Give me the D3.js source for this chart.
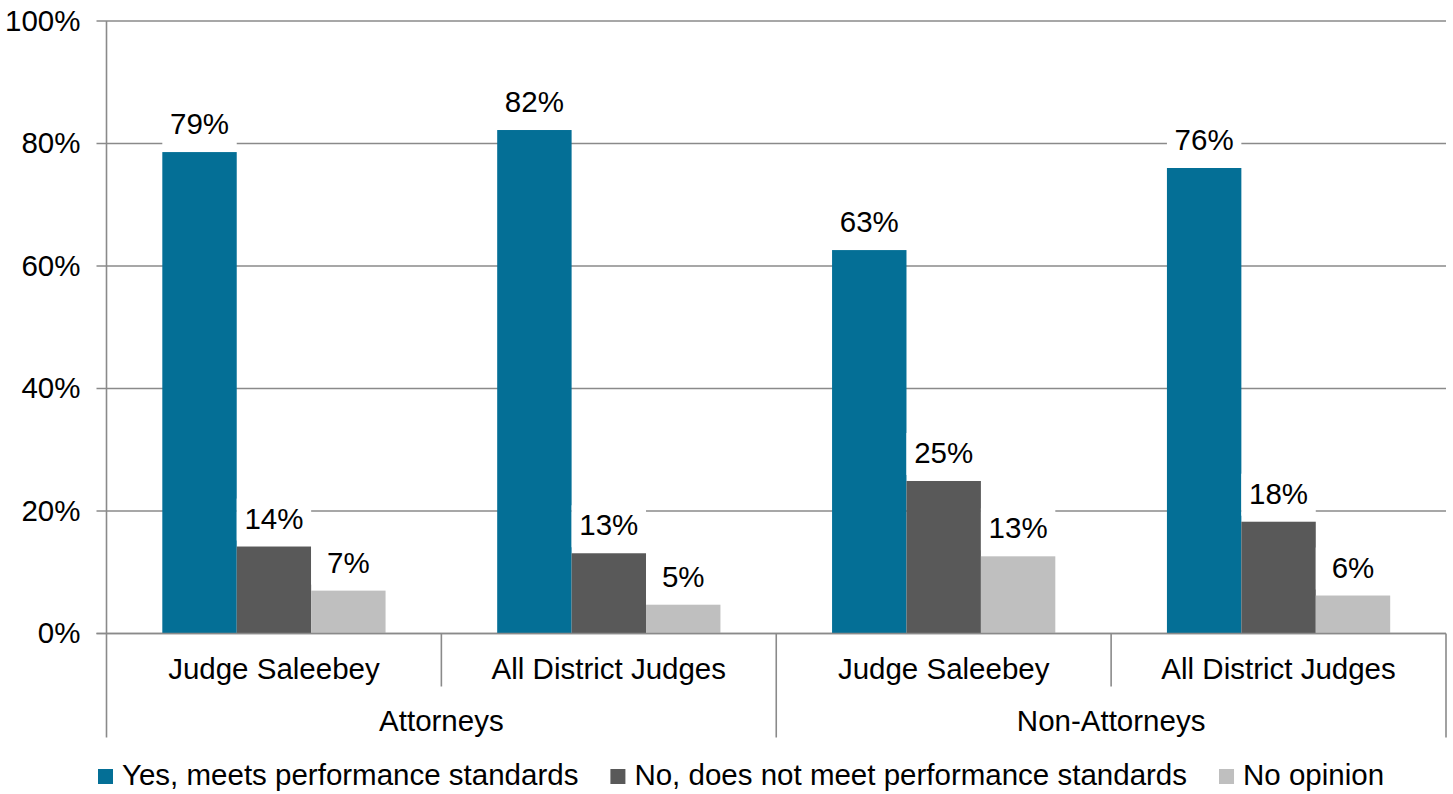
<!DOCTYPE html>
<html>
<head>
<meta charset="utf-8">
<script src="https://cdn.jsdelivr.net/npm/d3@7"></script>
<style>
  body { margin: 0; background: #fff; }
  text { font-family: "Liberation Sans", Arial, sans-serif; fill: #000; }
</style>
</head>
<body>
<svg id="chart" width="1453" height="794"></svg>
<script>
// data
var groups = ["Attorneys", "Non-Attorneys"];
var categories = ["Judge Saleebey", "All District Judges"];
var seriesNames = ["Yes, meets performance standards", "No, does not meet performance standards", "No opinion"];
var yesValues = [78.6, 82.2, 62.6, 76.0];
var noValues = [14.2, 13.1, 24.9, 18.25];
var noOpinionValues = [7.0, 4.7, 12.6, 6.2];
var yTicks = [0, 20, 40, 60, 80, 100];

var colors = ["#046f96", "#595959", "#bfbfbf"];
var seriesValues = [yesValues, noValues, noOpinionValues];

var margin = {top: 21, right: 7, bottom: 160.5, left: 106.5};
var width = 1453 - margin.left - margin.right;
var height = 794 - margin.top - margin.bottom;
var fontSize = 29.5;
var gridColor = "#8a8a8a";

var svg = d3.select("#chart")
  .append("g")
    .attr("transform", "translate(" + margin.left + "," + margin.top + ")");

// one slot per group/category pair
var slots = [];
groups.forEach(function(g) {
  categories.forEach(function(c) { slots.push({group: g, category: c, key: g + "|" + c}); });
});
slots.forEach(function(s, i) {
  s.values = seriesValues.map(function(v) { return v[i]; });
});

var x0 = d3.scaleBand().domain(slots.map(function(s) { return s.key; })).range([0, width]);
var x1 = d3.scaleBand().domain(seriesNames).range([0, x0.bandwidth()]).paddingInner(0).paddingOuter(0.75);
var y = d3.scaleLinear().domain([0, 100]).range([height, 0]);

// gridlines
svg.append("g")
  .selectAll("line")
  .data(yTicks)
  .enter().append("line")
    .attr("x1", -10)
    .attr("x2", width)
    .attr("y1", function(d) { return y(d); })
    .attr("y2", function(d) { return y(d); })
    .style("stroke", gridColor)
    .style("stroke-width", 1.6);

// y axis
var yAxis = d3.axisLeft(y)
  .tickValues(yTicks)
  .tickSize(0)
  .tickPadding(26)
  .tickFormat(function(d) { return d + "%"; });

svg.append("g")
  .call(yAxis)
  .call(function(g) {
    g.select(".domain").remove();
    g.selectAll("text").style("font-size", fontSize + "px").style("font-family", "Liberation Sans, Arial, sans-serif").attr("fill", "#000");
  });

// bars
var slotG = svg.selectAll(".slot")
  .data(slots)
  .enter().append("g")
    .attr("class", "slot")
    .attr("transform", function(d) { return "translate(" + x0(d.key) + ",0)"; });

var barData = function(d) {
  return seriesNames.map(function(name, j) { return {name: name, value: d.values[j], color: colors[j]}; });
};

slotG.selectAll("rect.bar")
  .data(barData)
  .enter().append("rect")
    .attr("class", "bar")
    .attr("x", function(d) { return x1(d.name); })
    .attr("width", x1.bandwidth())
    .attr("y", function(d) { return y(d.value); })
    .attr("height", function(d) { return height - y(d.value); })
    .style("fill", function(d) { return d.color; });

// labels, with a white box that hides the gridline behind
var labels = slotG.selectAll("g.label")
  .data(barData)
  .enter().append("g")
    .attr("class", "label");

labels.append("rect")
  .attr("x", function(d) { return x1(d.name); })
  .attr("width", x1.bandwidth())
  .attr("y", function(d) { return y(d.value) - 48; })
  .attr("height", 42)
  .style("fill", "#fff");

labels.append("text")
  .attr("x", function(d) { return x1(d.name) + x1.bandwidth() / 2; })
  .attr("y", function(d) { return y(d.value) - 18; })
  .attr("text-anchor", "middle")
  .style("font-size", fontSize + "px")
  .text(function(d) { return Math.round(d.value) + "%"; });

// baseline and y axis line
svg.append("line")
  .attr("x1", -10).attr("x2", width)
  .attr("y1", height).attr("y2", height)
  .style("stroke", gridColor).style("stroke-width", 1.6);

svg.append("line")
  .attr("x1", 0).attr("x2", 0)
  .attr("y1", 0).attr("y2", height)
  .style("stroke", gridColor).style("stroke-width", 1.6);

// category axis, two levels
var groupWidth = x0.bandwidth() * categories.length;
var sepInner = [], sepOuter = [0];
slots.forEach(function(s, i) {
  var right = x0(s.key) + x0.bandwidth();
  if ((i + 1) % categories.length === 0) sepOuter.push(right); else sepInner.push(right);
});

svg.selectAll(".sep-inner")
  .data(sepInner)
  .enter().append("line")
    .attr("x1", function(d) { return d; }).attr("x2", function(d) { return d; })
    .attr("y1", height).attr("y2", height + 53)
    .style("stroke", gridColor).style("stroke-width", 1.6);

svg.selectAll(".sep-outer")
  .data(sepOuter)
  .enter().append("line")
    .attr("x1", function(d) { return d; }).attr("x2", function(d) { return d; })
    .attr("y1", height).attr("y2", height + 104)
    .style("stroke", gridColor).style("stroke-width", 1.6);

svg.selectAll(".cat-label")
  .data(slots)
  .enter().append("text")
    .attr("x", function(d) { return x0(d.key) + x0.bandwidth() / 2; })
    .attr("y", height + 45)
    .attr("text-anchor", "middle")
    .style("font-size", fontSize + "px")
    .text(function(d) { return d.category; });

svg.selectAll(".group-label")
  .data(groups)
  .enter().append("text")
    .attr("x", function(d, i) { return i * groupWidth + groupWidth / 2; })
    .attr("y", height + 97)
    .attr("text-anchor", "middle")
    .style("font-size", fontSize + "px")
    .text(function(d) { return d; });

// legend
var legend = d3.select("#chart").append("g")
  .attr("transform", "translate(98,769)");

var lx = 0;
seriesNames.forEach(function(name, i) {
  var item = legend.append("g").attr("transform", "translate(" + lx + ",0)");
  item.append("rect")
    .attr("width", 15).attr("height", 15)
    .style("fill", colors[i]);
  var t = item.append("text")
    .attr("x", 24)
    .attr("y", 16)
    .style("font-size", fontSize + "px")
    .text(name);
  lx += 24 + t.node().getComputedTextLength() + 32;
});
</script>
</body>
</html>
